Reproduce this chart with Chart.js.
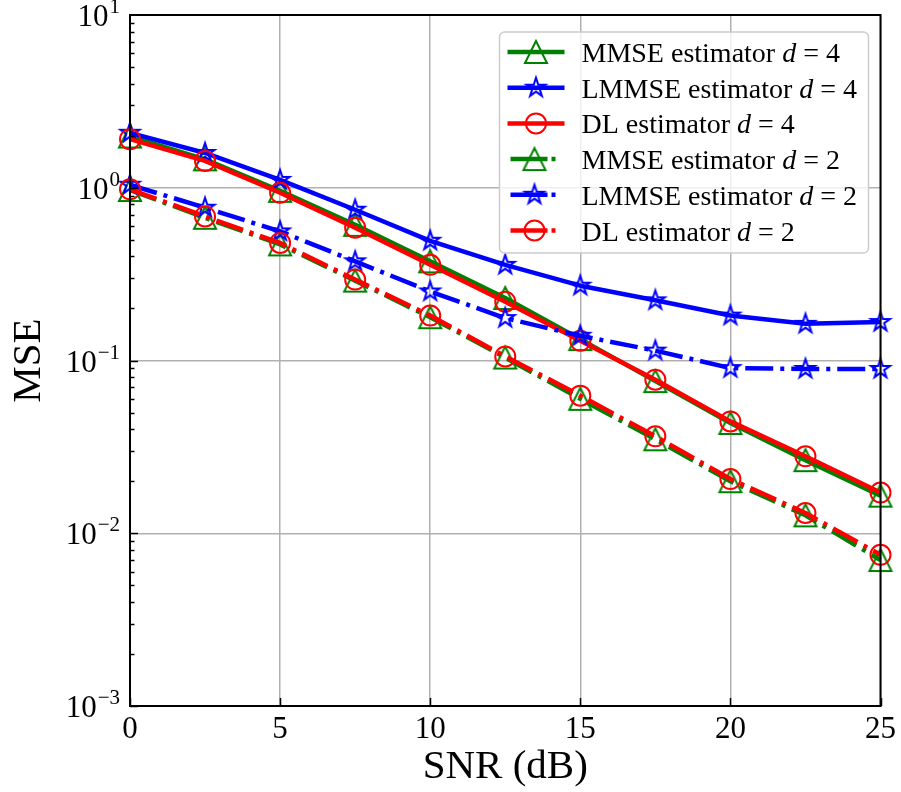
<!DOCTYPE html>
<html>
<head>
<meta charset="utf-8">
<script src="https://cdn.jsdelivr.net/npm/chart.js@4.4.0/dist/chart.umd.min.js"></script>
<style>
  body { margin: 0; background: #fff; }
</style>
</head>
<body>
<canvas id="chart0" width="901" height="792"></canvas>
<script>
// SNR points (dB)
const snr = [0, 2.5, 5, 7.5, 10, 12.5, 15, 17.5, 20, 22.5, 25];

// MSE
const mmse_d4  = [1.98, 1.46, 0.96, 0.61, 0.375, 0.23, 0.133, 0.076, 0.0435, 0.0265, 0.0165];
const lmmse_d4 = [2.08, 1.59, 1.11, 0.746, 0.493, 0.358, 0.271, 0.223, 0.182, 0.163, 0.167];
const dl_d4    = [1.91, 1.43, 0.935, 0.587, 0.358, 0.219, 0.130, 0.0774, 0.0444, 0.0279, 0.0172];
const mmse_d2  = [0.97, 0.67, 0.47, 0.29, 0.178, 0.104, 0.060, 0.035, 0.0200, 0.0127, 0.0070];
const lmmse_d2 = [1.04, 0.766, 0.559, 0.375, 0.251, 0.176, 0.139, 0.114, 0.0904, 0.0893, 0.0893];
const dl_d2    = [0.98, 0.682, 0.479, 0.294, 0.182, 0.1056, 0.0626, 0.0364, 0.0206, 0.0131, 0.0075];

const y_exponents = [-3, -2, -1, 0, 1];
const x_ticks = [0, 5, 10, 15, 20, 25];

const FONT = "'Liberation Serif', 'DejaVu Serif', serif";
const GREEN = '#008000', BLUE = '#0000ff', RED = '#ff0000';
const dashdot = [28, 7, 4, 7];

// hollow marker images (Chart.js 'star' is an asterisk, so draw our own)
function make_marker(kind, color) {
    const c = document.createElement('canvas');
    c.width = 30; c.height = 30;
    const g = c.getContext('2d');
    g.strokeStyle = color;
    g.lineWidth = 2;
    g.lineJoin = 'miter';
    g.beginPath();
    if (kind === 'tri') {
        g.moveTo(15, 4); g.lineTo(4, 26); g.lineTo(26, 26);
    } else {
        for (let i = 0; i < 10; i++) {
            const r = i % 2 ? 10 * 0.382 : 10;
            const a = -Math.PI / 2 + i * Math.PI / 5;
            g.lineTo(15 + r * Math.cos(a), 15 + r * Math.sin(a));
        }
    }
    g.closePath();
    g.stroke();
    return c;
}

const tri_green = make_marker('tri', GREEN);
const star_blue = make_marker('star', BLUE);

function series(label, values, color, marker, dashed, order) {
    return {
        label: label,
        data: values.map((v, i) => ({ x: snr[i], y: v })),
        borderColor: color,
        backgroundColor: color,
        borderWidth: 4.5,
        borderDash: dashed ? dashdot : [],
        borderJoinStyle: 'round',
        pointStyle: marker,
        pointRadius: 10,
        pointHoverRadius: 10,
        pointBorderWidth: 2,
        pointBorderColor: color,
        pointBackgroundColor: 'rgba(0,0,0,0)',
        tension: 0,
        clip: false,
        animation: false,
        order: order,
    };
}

const datasets = [
    series('MMSE estimator d = 4', mmse_d4, GREEN, tri_green, false, 6),
    series('LMMSE estimator d = 4', lmmse_d4, BLUE, star_blue, false, 5),
    series('DL estimator d = 4', dl_d4, RED, 'circle', false, 4),
    series('MMSE estimator d = 2', mmse_d2, GREEN, tri_green, true, 3),
    series('LMMSE estimator d = 2', lmmse_d2, BLUE, star_blue, true, 2),
    series('DL estimator d = 2', dl_d2, RED, 'circle', true, 1),
];

function is_decade(v) {
    const l = Math.log10(v);
    return Math.abs(l - Math.round(l)) < 1e-6;
}

function draw_marker(g, style, color, x, y) {
    if (style === 'circle') {
        g.save();
        g.strokeStyle = color; g.lineWidth = 2;
        g.beginPath(); g.arc(x, y, 10, 0, Math.PI * 2); g.stroke();
        g.restore();
    } else {
        g.drawImage(style, x - style.width / 2, y - style.height / 2);
    }
}

const decorations = {
    id: 'decorations',
    afterDatasetsDraw(chart) {
        const g = chart.ctx;
        const ca = chart.chartArea;
        const xs = chart.scales.x, ys = chart.scales.y;
        g.save();
        g.strokeStyle = '#000';
        // inward ticks on left axis
        g.lineWidth = 1.5;
        for (let e = -3; e <= 0; e++) {
            for (let m = 1; m <= 9; m++) {
                const v = m * Math.pow(10, e);
                const y = Math.round(ys.getPixelForValue(v)) + 0.5;
                const len = m === 1 ? 8 : 4.5;
                g.beginPath(); g.moveTo(ca.left, y); g.lineTo(ca.left + len, y); g.stroke();
            }
        }
        // inward ticks on bottom axis
        x_ticks.forEach(t => {
            const x = Math.round(xs.getPixelForValue(t)) + 0.5;
            g.beginPath(); g.moveTo(x, ca.bottom); g.lineTo(x, ca.bottom - 8); g.stroke();
        });
        // frame
        g.lineWidth = 2;
        g.strokeRect(ca.left, ca.top, ca.right - ca.left, ca.bottom - ca.top);

        // legend
        const x0 = ca.right - 381, y0 = ca.top + 17, w = 369, h = 221;
        g.beginPath();
        g.roundRect(x0, y0, w, h, 5);
        g.fillStyle = 'rgba(255,255,255,0.8)';
        g.fill();
        g.strokeStyle = '#cccccc';
        g.lineWidth = 1.5;
        g.stroke();

        chart.data.datasets.forEach((d, i) => {
            const yc = y0 + 20 + i * 35.7;
            const dashed = d.borderDash.length > 0;
            g.strokeStyle = d.borderColor;
            g.lineWidth = d.borderWidth;
            g.lineCap = 'butt';
            g.beginPath();
            if (dashed) {
                g.moveTo(x0 + 11, yc); g.lineTo(x0 + 48, yc);
                g.moveTo(x0 + 52, yc); g.lineTo(x0 + 56, yc);
            } else {
                g.moveTo(x0 + 8, yc); g.lineTo(x0 + 65, yc);
            }
            g.stroke();
            draw_marker(g, d.pointStyle, d.borderColor, dashed ? x0 + 35 : x0 + 36.5, yc);

            const parts = d.label.split(' d = ');
            let tx = x0 + 82;
            const ty = yc + 10;
            g.fillStyle = '#000';
            g.textBaseline = 'alphabetic';
            g.textAlign = 'left';
            g.font = '28px ' + FONT;
            g.fillText(parts[0] + ' ', tx, ty);
            tx += g.measureText(parts[0] + ' ').width;
            g.font = 'italic 28px ' + FONT;
            g.fillText('d', tx, ty);
            tx += g.measureText('d').width + 7;
            g.font = '28px ' + FONT;
            g.fillText('=', tx, ty);
            tx += g.measureText('=').width + 7;
            g.fillText(parts[1], tx, ty);
        });
        g.restore();
    },
    afterDraw(chart) {
        // y tick labels as 10 with superscript exponent
        const g = chart.ctx;
        const ys = chart.scales.y;
        g.save();
        g.fillStyle = '#000';
        g.textBaseline = 'alphabetic';
        y_exponents.forEach(e => {
            const y = ys.getPixelForValue(Math.pow(10, e));
            const ex = e < 0 ? '\u2212' + (-e) : String(e);
            g.font = '21px ' + FONT;
            const wex = g.measureText(ex).width;
            const right = 120;
            g.textAlign = 'left';
            g.fillText(ex, right - wex, y - 2);
            g.font = '31px ' + FONT;
            g.textAlign = 'right';
            g.fillText('10', right - wex - 1, y + 11);
        });
        g.restore();
    }
};

const canvas0 = document.getElementById('chart0');
const ctx0 = canvas0.getContext('2d');

const chart0 = new Chart(ctx0, {
    type: 'line',
    data: { datasets: datasets },
    options: {
        responsive: false,
        animation: false,
        events: [],
        layout: { padding: { left: 0, right: 17, top: 15, bottom: 0 } },
        plugins: {
            legend: { display: false },
            tooltip: { enabled: false },
        },
        scales: {
            x: {
                type: 'linear',
                min: 0,
                max: 25,
                afterFit: (s) => { s.height = 86; },
                afterBuildTicks: (s) => { s.ticks = x_ticks.map(v => ({ value: v })); },
                ticks: {
                    font: { family: FONT, size: 31 },
                    color: '#000',
                    padding: 5,
                    maxRotation: 0,
                },
                grid: {
                    color: '#b0b0b0',
                    lineWidth: 1.5,
                    drawTicks: false,
                },
                border: { display: false },
                title: {
                    display: true,
                    text: 'SNR (dB)',
                    font: { family: FONT, size: 41 },
                    color: '#000',
                    padding: { top: 0, bottom: 0 },
                },
            },
            y: {
                type: 'logarithmic',
                min: 1e-3,
                max: 10,
                afterFit: (s) => { s.width = 130; },
                ticks: { display: false },
                grid: {
                    color: (c) => (c.tick && is_decade(c.tick.value)) ? '#b0b0b0' : 'rgba(0,0,0,0)',
                    lineWidth: 1.5,
                    drawTicks: false,
                },
                border: { display: false },
                title: {
                    display: true,
                    text: 'MSE',
                    font: { family: FONT, size: 41 },
                    color: '#000',
                    padding: { top: 5, bottom: 0 },
                },
            },
        },
    },
    plugins: [decorations],
});
</script>
</body>
</html>
